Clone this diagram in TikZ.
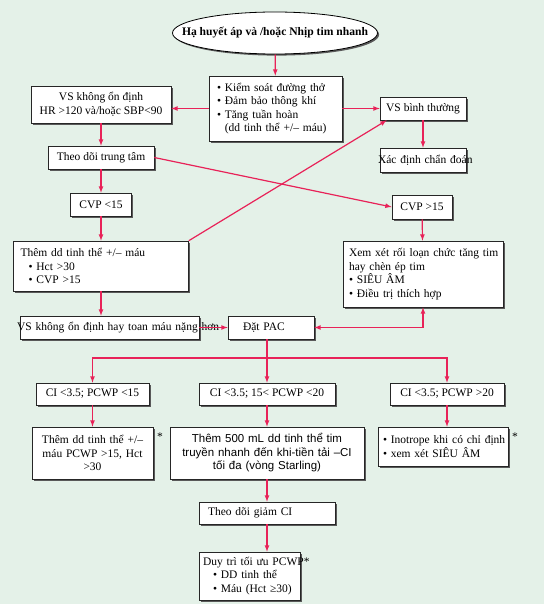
\documentclass[tikz,border=0pt]{standalone}
\usepackage{fontspec}
\setmainfont{Liberation Serif}
\newfontfamily\arialfont{Liberation Sans}
\usetikzlibrary{positioning, arrows, shapes.geometric, shadows}

\definecolor{bgmint}{RGB}{228,241,232}
\definecolor{linkred}{RGB}{232,34,88}

\tikzset{
  box/.style={draw=black!85, fill=white, line width=0.6pt, inner ysep=0pt, inner xsep=5pt,
    align=center, font=\fontsize{11.5}{13.5}\selectfont,
    drop shadow={shadow xshift=1.6pt, shadow yshift=-1.6pt, fill=black!65, opacity=1}},
  link/.style={->, draw=linkred, line width=1.2pt},
}

\begin{document}
\begin{tikzpicture}[x=1pt,y=-1pt,>=latex,on grid]
\fill[bgmint] (0,0) rectangle (544,604);
\useasboundingbox (0,0) rectangle (544,604);

\node[ellipse, draw=black, fill=white, line width=0.8pt, minimum width=205pt, minimum height=42pt,
  inner xsep=-25pt, inner ysep=5pt, font=\fontsize{11.6}{13.5}\selectfont\bfseries,
  drop shadow={shadow xshift=1.6pt, shadow yshift=-1.6pt, fill=black!65, opacity=1}]
  (start) at (275,33) {Hạ huyết áp và /hoặc Nhịp tim nhanh};
\node[box, align=left, inner xsep=8pt, text width=117pt, minimum height=65pt] (kiem) at (275.5,108.5)
  {• Kiểm soát đường thở\\ • Đảm bảo thông khí\\ • Tăng tuần hoàn\\ \hphantom{•\ }(dd tinh thể +/– máu)};
\node[box, minimum width=140pt, minimum height=37pt] (vsko) at (101,104.5)
  {VS không ổn định\\ HR >120 và/hoặc SBP<90};
\node[box, minimum width=86pt, minimum height=23pt] (vsbt) at (423,108.5) {VS bình thường};
\node[box, align=left, inner xsep=-2pt, text width=90pt, minimum height=24pt] (xacdinh) [below=51.5pt of vsbt]
  {\mbox{Xác định chẩn đoán}};
\node[box, minimum width=106pt, minimum height=23pt] (theo) at (101,157.5) {Theo dõi trung tâm};
\node[box, minimum width=61pt, minimum height=23pt] (cvplo) [below=47pt of theo] {CVP <15};
\node[box, minimum width=60pt, minimum height=24pt] (cvphi) at (422,207) {CVP >15};
\node[box, align=left, inner xsep=7pt, text width=161pt, minimum height=50pt] (themdd) [below=61.5pt of cvplo]
  {Thêm dd tinh thể +/– máu\\ \hspace*{8pt}• Hct >30\\ \hspace*{8pt}• CVP >15};
\node[box, align=left, inner xsep=6pt, text width=148pt, minimum height=66pt] (xemxet) at (423,274)
  {\mbox{Xem xét rối loạn chức tăng tim}\\ hay chèn ép tim\\ • SIÊU ÂM\\ • Điều trị thích hợp};
\node[box, align=left, inner xsep=-3pt, text width=185pt, minimum height=23pt] (vshay) at (109.5,327.5)
  {\mbox{VS không ổn định hay toan máu nặng hơn}};
\node[box, align=left, inner xsep=15pt, text width=56pt, minimum height=23pt] (pac) at (271,327.5) {Đặt PAC};
\node[box, minimum width=113pt, minimum height=22pt] (ci1) at (92.5,394) {CI <3.5; PCWP <15};
\node[box, minimum width=136pt, minimum height=22pt] (ci2) at (267,394) {CI <3.5; 15< PCWP <20};
\node[box, minimum width=114pt, minimum height=22pt] (ci3) at (447,394) {CI <3.5; PCWP >20};
\node[box, text width=111pt, minimum height=52pt] (them2) [below=59pt of ci1]
  {Thêm dd tinh thể +/–\\ máu PCWP >15, Hct\\ >30};
\node[box, text width=184pt, minimum height=52pt, font=\fontsize{11.5}{13.5}\selectfont\arialfont] (them500) [below=59pt of ci2]
  {Thêm 500 mL dd tinh thể tim\\ truyền nhanh đến khi-tiền tải –CI\\ tối đa (vòng Starling)};
\node[box, align=left, inner xsep=5pt, text width=120pt, minimum height=39pt] (inot) at (443,446.5)
  {\mbox{• Inotrope khi có chỉ định}\\ • xem xét SIÊU ÂM};
\node[font=\fontsize{11.6}{13.5}\selectfont, inner sep=0pt] (star1) at (160,437) {*};
\node[font=\fontsize{11.6}{13.5}\selectfont, inner sep=0pt] (star2) at (515,437) {*};
\node[box, align=left, inner xsep=9pt, text width=118pt, minimum height=22pt] (theogiam) [below=60pt of them500] {Theo dõi giảm CI};
\node[box, align=left, inner xsep=4pt, text width=93pt, minimum height=48pt] (duytri) at (249.5,576)
  {\mbox{Duy trì tối ưu PCWP*}\\ \hspace*{10pt}• DD tinh thể\\ \hspace*{10pt}• Máu (Hct ≥30)};
\coordinate (bus) at (267,358);

\draw[link] (start) -- (kiem);
\draw[link] (kiem.west) -- (kiem.west -| vsko.east);
\draw[link] (kiem.east) -- (vsbt.west);
\draw[link] (vsbt) -- (xacdinh);
\draw[link] (vsko) -- (theo);
\draw[link] (theo.east) -- (cvphi.west);
\draw[link] (themdd.north east) -- ([xshift=7pt]vsbt.south west);
\draw[link] (theo) -- (cvplo);
\draw[link] (cvplo) -- (themdd);
\draw[link] (themdd.south) -- (themdd.south |- vshay.north);
\draw[link] (vshay.east) -- (pac.west);
\draw[link] (cvphi) -- (xemxet);
\draw[link, <->] (pac.east) -| (xemxet.south);
\draw[link] (ci2 |- pac.south) -- (ci2.north);
\draw[link] (bus) -| (ci1.north);
\draw[link] (bus) -| (ci3.north);
\draw[link] (ci1) -- (them2);
\draw[link] (ci2) -- (them500);
\draw[link] (ci3.south) -- (ci3.south |- inot.north);
\draw[link] (them500.south) -- (them500.south |- theogiam.north);
\draw[link] (theogiam.south) -- (theogiam.south |- duytri.north);
\end{tikzpicture}
\end{document}
